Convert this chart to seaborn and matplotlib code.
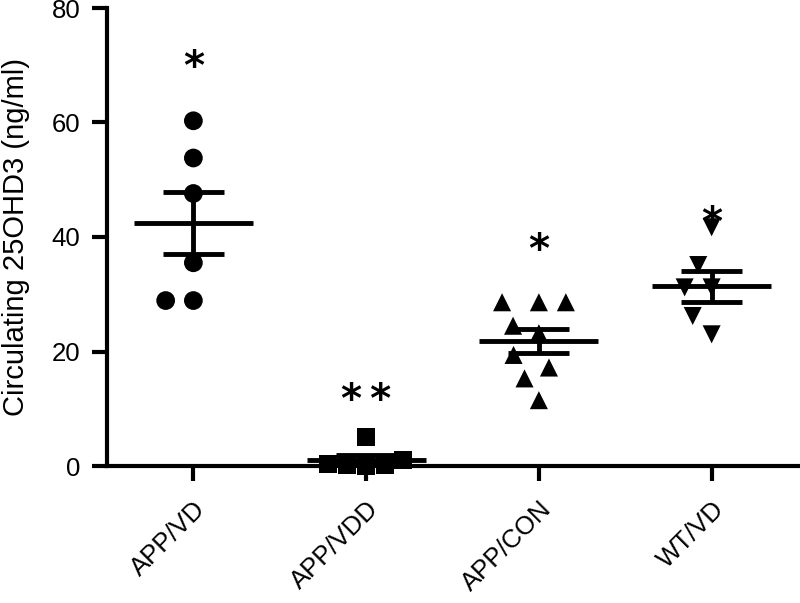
import numpy as np
import pandas as pd
import matplotlib
matplotlib.use("Agg")
import matplotlib.pyplot as plt
import seaborn as sns

# ---- data ----
categories = ["APP/VD", "APP/VDD", "APP/CON", "WT/VD"]
app_vd = [60.3, 53.8, 47.6, 35.5, 28.9, 28.9]
app_vdd = [5.0, 1.0, 0.3, 0.1, 0.0, 0.2]
app_con = [28.6, 28.6, 28.6, 24.5, 23.2, 19.4, 17.2, 15.3, 11.5]
wt_vd = [41.7, 35.1, 31.2, 31.2, 26.2, 23.0]
star_labels = ["*", "*\u2009*", "*", "*"]
star_values = [71.1, 13.0, 39.2, 43.8]
y_ticks = [0, 20, 40, 60, 80]
y_label = "Circulating 25OHD3 (ng/ml)"

groups = [app_vd, app_vdd, app_con, wt_vd]
df = pd.DataFrame({
    "group": np.repeat(categories, [len(g) for g in groups]),
    "value": np.concatenate(groups),
})

sns.set_theme(style="ticks")
plt.rcParams["font.family"] = ["Liberation Sans", "DejaVu Sans"]

fig = plt.figure(figsize=(8, 6.03), dpi=100)
ax = fig.add_axes([107 / 800, 1 - 466 / 603, 691 / 800, 458 / 603])

markers = ["o", "s", "^", "v"]
sizes = [13.5, 13, 13, 13]
spacing_pad = [5.5, 0.0, 5.5, 5.5]
for cat, m, sz, pad in zip(categories, markers, sizes, spacing_pad):
    n_before = len(ax.collections)
    sns.swarmplot(data=df[df["group"] == cat], x="group", y="value",
                  order=categories, marker=m, size=sz, color="black",
                  ax=ax, zorder=2, warn_thresh=1)
    for coll in ax.collections[n_before:]:
        if len(coll.get_offsets()) == 0:
            coll.set_visible(False)
            continue
        coll.set_edgecolor("none")
        coll.set_linewidth(pad)
        coll.set_clip_on(False)

stats = df.groupby("group", sort=False)["value"].agg(["mean", "sem"]).reindex(categories)
for i, cat in enumerate(categories):
    m, s = stats.loc[cat, "mean"], stats.loc[cat, "sem"]
    ax.hlines(m, i - 0.345, i + 0.345, color="black", lw=3.5, zorder=3, clip_on=False)
    ax.hlines([m - s, m + s], i - 0.177, i + 0.177, color="black", lw=3.5, zorder=3, clip_on=False)
    ax.vlines(i, m - s, m + s, color="black", lw=3.5, zorder=3, clip_on=False)

star_fs = 29
for i, (lab, yv) in enumerate(zip(star_labels, star_values)):
    ax.annotate(lab, xy=(i, yv), xytext=(0, -0.5 * star_fs), textcoords="offset points",
                ha="center", va="baseline", fontsize=star_fs, fontweight="bold",
                family="DejaVu Sans", color="black", annotation_clip=False)

ax.set_xlim(-0.5, 3.5)
ax.set_ylim(0, 80)
ax.set_yticks(y_ticks)
ax.set_xlabel("")
ax.set_ylabel(y_label, fontsize=21, color="black")
ax.yaxis.set_label_coords(-0.111, 0.5)
for sp in ["top", "right"]:
    ax.spines[sp].set_visible(False)
for sp in ["left", "bottom"]:
    ax.spines[sp].set_linewidth(3)
    ax.spines[sp].set_color("black")
ax.tick_params(axis="both", length=11, width=3, labelsize=18.5, colors="black", pad=8)
ax.tick_params(axis="x", pad=11)
for lbl in ax.get_xticklabels():
    lbl.set_rotation(45)
    lbl.set_ha("right")
    lbl.set_va("top")
    lbl.set_rotation_mode("anchor")

fig.savefig("out.png", dpi=100)
